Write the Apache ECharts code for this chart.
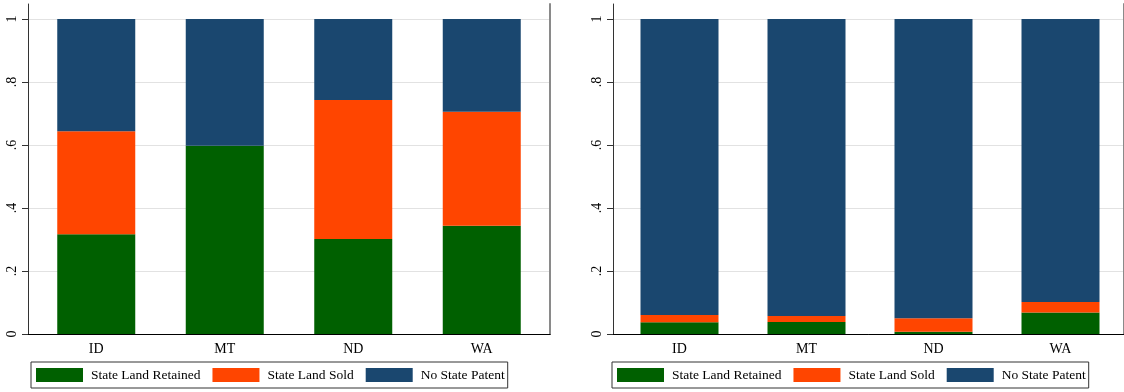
<!DOCTYPE html>
<html>
<head>
<meta charset="utf-8">
<script src="https://cdn.jsdelivr.net/npm/echarts@6/dist/echarts.min.js"></script>
<style>
  html, body { margin: 0; padding: 0; background: #fff; }
  #chart { width: 1124px; height: 392px; }
</style>
</head>
<body>
<div id="chart"></div>
<script>
// categories and shares
const states = ["ID", "MT", "ND", "WA"];
const seriesNames = ["State Land Retained", "State Land Sold", "No State Patent"];

const leftRetained = [0.317, 0.598, 0.302, 0.344];
const leftSold = [0.327, 0, 0.441, 0.362];
const leftNoPatent = [0.356, 0.402, 0.257, 0.294];

const rightRetained = [0.037, 0.038, 0.007, 0.068];
const rightSold = [0.023, 0.019, 0.043, 0.034];
const rightNoPatent = [0.940, 0.943, 0.950, 0.898];

const yTicks = [0, 0.2, 0.4, 0.6, 0.8, 1];

const COLORS = {
  retained: "#006000",
  sold: "#ff4500",
  noPatent: "#1a476f",
};

const FONT = "Liberation Serif";
const Y_MAX = 1.048;

const chart = echarts.init(document.getElementById("chart"));

const fmtTick = v => (v === 0 ? "0" : v === 1 ? "1" : v.toFixed(1).replace(/^0/, ""));

// frame grid: border, y ticks/labels and grid lines
const frameAxes = gridIndex => ({
  x: [
    {
      type: "category",
      gridIndex,
      data: states,
      position: "bottom",
      axisLine: { lineStyle: { color: "#222", width: 1 } },
      axisTick: { show: false },
      axisLabel: { show: false },
    },
    {
      type: "category",
      gridIndex,
      data: states,
      position: "top",
      axisLine: { lineStyle: { color: "#000", width: 1 } },
      axisTick: { show: false },
      axisLabel: { show: false },
    },
  ],
  y: [
    {
      type: "value",
      gridIndex,
      min: 0,
      max: Y_MAX,
      interval: 0.2,
      position: "left",
      axisLine: { show: true, lineStyle: { color: "#333", width: 1 } },
      axisTick: { show: true, length: 6, customValues: yTicks, lineStyle: { color: "#333" } },
      axisLabel: {
        customValues: yTicks,
        rotate: 90,
        margin: 9,
        color: "#000",
        fontFamily: FONT,
        fontSize: 14,
        formatter: fmtTick,
      },
      splitLine: { show: true, lineStyle: { color: "#e2e2e2", width: 1 } },
    },
    {
      type: "value",
      gridIndex,
      min: 0,
      max: Y_MAX,
      position: "right",
      axisLine: { show: true, lineStyle: { color: "#8a8a8a", width: 2 } },
      axisTick: { show: false },
      axisLabel: { show: false },
      splitLine: { show: false },
    },
  ],
});

// data grid: bars and category labels
const dataAxes = gridIndex => ({
  x: [
    {
      type: "category",
      gridIndex,
      data: states,
      boundaryGap: true,
      axisLine: { show: false },
      axisTick: { show: false },
      axisLabel: { color: "#000", fontFamily: FONT, fontSize: 14, margin: 8 },
    },
  ],
  y: [
    {
      type: "value",
      gridIndex,
      min: 0,
      max: Y_MAX,
      axisLine: { show: false },
      axisTick: { show: false },
      axisLabel: { show: false },
      splitLine: { show: false },
    },
  ],
});

const fL = frameAxes(0);
const fR = frameAxes(1);
const dL = dataAxes(2);
const dR = dataAxes(3);

// x indexes: 0,1 frame L; 2,3 frame R; 4 data L; 5 data R
// y indexes: 0,1 frame L; 2,3 frame R; 4 data L; 5 data R
const makeSeries = (axisIndex, stack, values) =>
  values.map((data, i) => ({
    name: seriesNames[i],
    type: "bar",
    stack,
    xAxisIndex: axisIndex,
    yAxisIndex: axisIndex,
    barWidth: 78,
    data,
    itemStyle: { color: [COLORS.retained, COLORS.sold, COLORS.noPatent][i] },
    emphasis: { disabled: true },
  }));

const makeLegend = left => ({
  left,
  top: 362,
  orient: "horizontal",
  data: seriesNames,
  icon: "rect",
  itemWidth: 47,
  itemHeight: 14,
  itemGap: 12,
  padding: [6, 3, 6, 5],
  borderColor: "#333",
  borderWidth: 1,
  selectedMode: false,
  textStyle: { color: "#000", fontFamily: FONT, fontSize: 13.5, padding: [0, 0, 0, 3] },
});

const option = {
  animation: false,
  backgroundColor: "#fff",
  grid: [
    { left: 28, top: 4, width: 522, height: 330 },
    { left: 613, top: 4, width: 521, height: 330 },
    { left: 32, top: 4, width: 514, height: 330 },
    { left: 616, top: 4, width: 513, height: 330 },
  ],
  xAxis: [...fL.x, ...fR.x, ...dL.x, ...dR.x],
  yAxis: [...fL.y, ...fR.y, ...dL.y, ...dR.y],
  legend: [makeLegend(31), makeLegend(612)],
  series: [
    ...makeSeries(4, "left", [leftRetained, leftSold, leftNoPatent]),
    ...makeSeries(5, "right", [rightRetained, rightSold, rightNoPatent]),
  ],
};

chart.setOption(option);
</script>
</body>
</html>
